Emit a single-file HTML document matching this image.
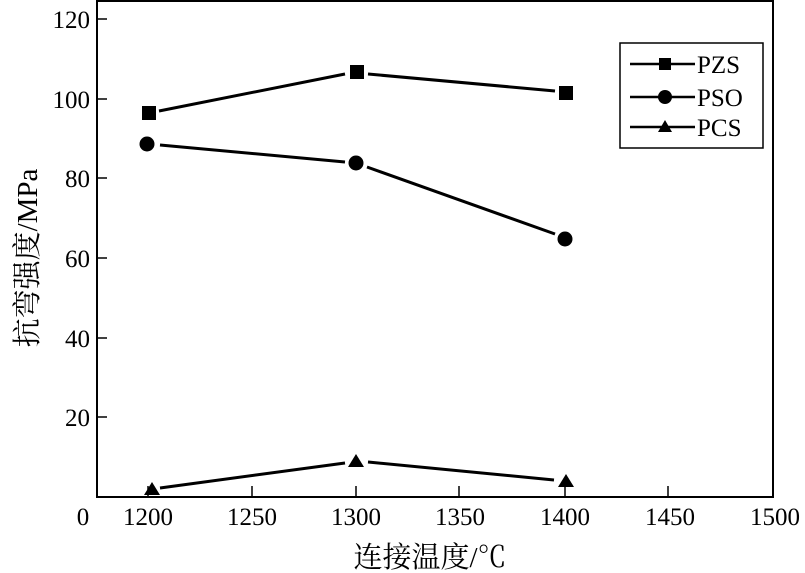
<!DOCTYPE html>
<html><head><meta charset="utf-8"><style>
html,body{margin:0;padding:0;background:#fff}
svg{display:block}
text{font-family:"Liberation Serif","Noto Serif CJK SC",serif;fill:#000}
</style></head><body>
<svg width="805" height="573" viewBox="0 0 805 573" xmlns="http://www.w3.org/2000/svg">
<rect x="97" y="1" width="676" height="496" fill="none" stroke="#000" stroke-width="2"/>
<g stroke="#000" stroke-width="1.5">
<line x1="97" y1="19" x2="107" y2="19"/><line x1="97" y1="99" x2="107" y2="99"/>
<line x1="97" y1="178" x2="107" y2="178"/><line x1="97" y1="258" x2="107" y2="258"/>
<line x1="97" y1="338" x2="107" y2="338"/><line x1="97" y1="417" x2="107" y2="417"/>
<line x1="148" y1="497" x2="148" y2="486"/><line x1="252" y1="497" x2="252" y2="486"/>
<line x1="356" y1="497" x2="356" y2="486"/><line x1="459" y1="497" x2="459" y2="486"/>
<line x1="565" y1="497" x2="565" y2="486"/><line x1="668" y1="497" x2="668" y2="486"/>
</g>
<g font-size="25" text-anchor="end">
<text x="90" y="28">120</text><text x="90" y="108">100</text><text x="90" y="187">80</text>
<text x="90" y="267">60</text><text x="90" y="347">40</text><text x="90" y="426">20</text>
</g>
<g font-size="25" text-anchor="middle">
<text x="83" y="525">0</text>
<text x="148" y="525">1200</text><text x="252" y="525">1250</text><text x="356" y="525">1300</text>
<text x="460" y="525">1350</text><text x="565" y="525">1400</text><text x="670" y="525">1450</text><text x="775" y="525">1500</text>
</g>
<text x="430" y="567" font-size="29" text-anchor="middle">连接温度/℃</text>
<text transform="translate(37,258) rotate(-90)" font-size="29" text-anchor="middle">抗弯强度/MPa</text>
<g stroke="#000" stroke-width="3" fill="none">
<line x1="159" y1="111" x2="345" y2="74"/><line x1="368" y1="74" x2="555" y2="91"/>
<line x1="160" y1="145" x2="345" y2="162"/><line x1="367" y1="167" x2="555" y2="234"/>
<line x1="160" y1="488" x2="345" y2="463"/><line x1="368" y1="462" x2="554" y2="480"/>
</g>
<g fill="#000">
<rect x="142" y="106" width="14" height="14"/><rect x="350" y="65" width="14" height="14"/><rect x="559" y="86" width="14" height="14"/>
<circle cx="147" cy="144" r="7.5"/><circle cx="356" cy="163" r="7.5"/><circle cx="565" cy="239" r="7.5"/>
<polygon points="152,482 160,495 144,495"/><polygon points="356,454 364,467 348,467"/><polygon points="566,474 574,487 558,487"/>
</g>
<rect x="620" y="43" width="143" height="105" fill="#fff" stroke="#000" stroke-width="1.5"/>
<g stroke="#000" stroke-width="2.5">
<line x1="630" y1="64" x2="695" y2="64"/><line x1="630" y1="97" x2="695" y2="97"/><line x1="630" y1="127" x2="695" y2="127"/>
</g>
<g fill="#000">
<rect x="659" y="58" width="12" height="12"/><circle cx="665" cy="97" r="7"/><polygon points="665,120 672,132 658,132"/>
</g>
<g font-size="25">
<text x="697" y="73">PZS</text><text x="697" y="106">PSO</text><text x="697" y="136">PCS</text>
</g>
</svg>
</body></html>
